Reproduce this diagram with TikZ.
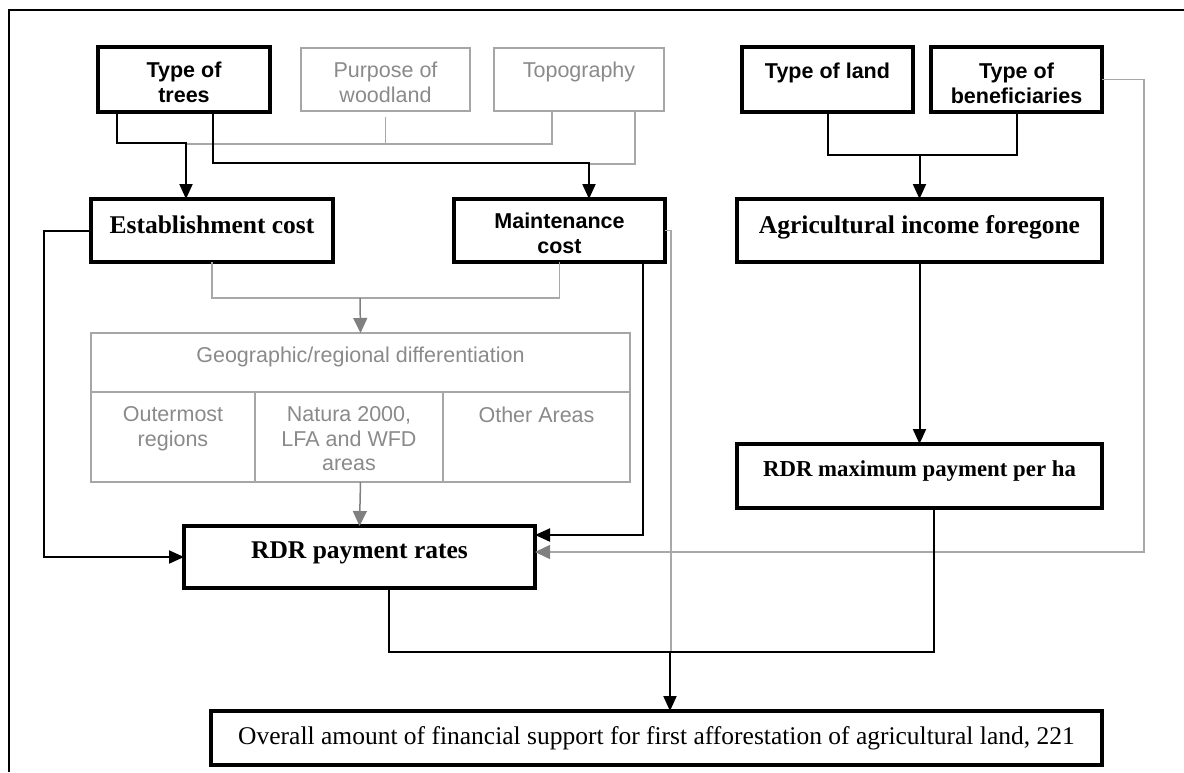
\documentclass[tikz,border=0pt]{standalone}
\usepackage{fontspec}
\setmainfont{Liberation Serif}
\setsansfont{Liberation Sans}
\usetikzlibrary{arrows.meta}
\definecolor{boxgray}{HTML}{A6A6A6}
\definecolor{txtgray}{HTML}{8A8A8A}
\definecolor{lngray}{HTML}{A8A8A8}
\definecolor{arrgray}{HTML}{808080}
\begin{document}
\begin{tikzpicture}[x=1pt,y=-1pt,
  bbox/.style={draw=black,line width=3.5pt,inner sep=0,outer sep=0},
  gbox/.style={draw=boxgray,line width=1.3pt,inner sep=0,outer sep=0},
  sansb/.style={font=\sffamily\bfseries\fontsize{21.5}{24.5}\selectfont,inner sep=0,align=center},
  sansg/.style={font=\sffamily\fontsize{21.5}{24.5}\selectfont,text=txtgray,inner sep=0,align=center},
  serifb/.style={font=\rmfamily\bfseries\fontsize{25.5}{29}\selectfont,inner sep=0},
  blk/.style={draw=black,line width=2pt},
  gln/.style={draw=lngray,line width=1.3pt},
  tip/.style={-{Triangle[length=15pt,width=13pt]}},
  gtip/.style={draw=arrgray,line width=1.5pt,-{Triangle[length=15pt,width=14pt]}},
]
\useasboundingbox (0,0) rectangle (1184,772);

% frame
\draw[line width=1.6pt] (9,772) -- (9,10) -- (1184,10);

% --- boxes ---
\node[bbox,minimum width=172,minimum height=65] (trees) at (184,79.5) {};
\node[gbox,minimum width=169,minimum height=63] (purpose) at (385.5,79.5) {};
\node[gbox,minimum width=170,minimum height=63] (topo) at (579,79.5) {};
\node[bbox,minimum width=171,minimum height=65] (land) at (827.5,79.5) {};
\node[bbox,minimum width=171,minimum height=65] (benef) at (1016.5,79.5) {};

\node[bbox,minimum width=242,minimum height=63] (estab) at (212,230.5) {};
\node[bbox,minimum width=211,minimum height=63] (maint) at (559.5,230.5) {};
\node[bbox,minimum width=365,minimum height=63] (agri) at (919.5,230.5) {};

% regional differentiation table
\node[gbox,minimum width=539,minimum height=59] (hdr) at (360.5,362.5) {};
\node[gbox,minimum width=164,minimum height=90] (c1) at (173,437) {};
\node[gbox,minimum width=188,minimum height=90] (c2) at (349,437) {};
\node[gbox,minimum width=187,minimum height=90] (c3) at (536.5,437) {};

\node[bbox,minimum width=365,minimum height=64] (rdrmax) at (919.5,476) {};
\node[bbox,minimum width=351,minimum height=62] (rdr) at (359.5,557) {};
\node[bbox,minimum width=891,minimum height=54] (overall) at (656.5,738) {};

% --- labels ---
\node[sansb,anchor=north] (ltrees) at (184,62.1) {Type of\\trees};
\node[sansg,anchor=north] (lpurpose) at (385.5,62) {Purpose of\\woodland};
\node[sansg,anchor=base] (ltopo) at (579,77.5) {Topography};
\node[sansb,anchor=base] (lland) at (827.5,78) {Type of land};
\node[sansb,anchor=north] (lbenef) at (1016.5,63) {Type of\\beneficiaries};

\node[serifb,anchor=base] (lestab) at (212,233) {Establishment cost};
\node[sansb,anchor=north] (lmaint) at (559.5,213) {Maintenance\\cost};
\node[serifb,anchor=base] (lagri) at (919.5,233) {Agricultural income foregone};

\node[sansg,anchor=base] (lhdr) at (360.5,362.7) {Geographic/regional differentiation};
\node[sansg,anchor=north] (lc1) at (173,406.6) {Outermost\\regions};
\node[sansg,anchor=north] (lc2) at (349,406.6) {Natura 2000,\\LFA and WFD\\areas};
\node[sansg,anchor=base] (lc3) at (536.5,422) {Other Areas};

\node[font=\rmfamily\bfseries\fontsize{22.8}{26}\selectfont,inner sep=0,anchor=base] (lrdrmax) at (919.5,476) {RDR maximum payment per ha};
\node[serifb,anchor=base] (lrdr) at (359.5,558.7) {RDR payment rates};
\node[font=\rmfamily\fontsize{25.5}{29}\selectfont,inner sep=0,anchor=base] (loverall) at (656.5,744) {Overall amount of financial support for first afforestation of agricultural land, 221};

% --- grey connectors ---
\draw[gln] ([xshift=-27pt]topo.south) |- (186,144);
\draw[gln] ([yshift=-6pt]purpose.south) -- (purpose.south |- 0,144);
\draw[gln] ([xshift=56pt]topo.south) |- (589,164);
\draw[gln] (estab.south) |- (360,298) -| (maint.south);
\draw[gtip] (360,298) -- (hdr.north);
\draw[gtip] (hdr.center |- c2.south) -- (rdr.north);
\draw[gln] (maint.east) -| (671,652);
\draw[gln] (benef.east) -| (1144,552) -- ([xshift=14pt,yshift=5pt]rdr.east);
\draw[gtip] ([xshift=14pt,yshift=5pt]rdr.east) -- ([yshift=5pt]rdr.east);

% --- black connectors ---
\draw[blk,tip] ([xshift=-67pt]trees.south) |- (186,143) -- ([xshift=-26pt]estab.north);
\draw[blk,tip] ([xshift=29pt]trees.south) |- (589,163) -- ([xshift=29.5pt]maint.north);
\draw[blk] (land.south) |- (benef.south |- 0,155) -- (benef.south);
\draw[blk,tip] (agri.north |- 0,155) -- (agri.north);
\draw[blk,tip] (agri.south) -- (rdrmax.north);
\draw[blk,tip] (estab.west) -| (44,557) -- (rdr.west);
\draw[blk,tip] ([xshift=83.5pt]maint.south) |- ([yshift=22pt]rdr.east);
\draw[blk] ([xshift=29.5pt]rdr.south) |- (670,652);
\draw[blk] ([xshift=14.5pt]rdrmax.south) |- (670,652);
\draw[blk,tip] (670,652) -- ([xshift=13.5pt]overall.north);
\end{tikzpicture}
\end{document}
